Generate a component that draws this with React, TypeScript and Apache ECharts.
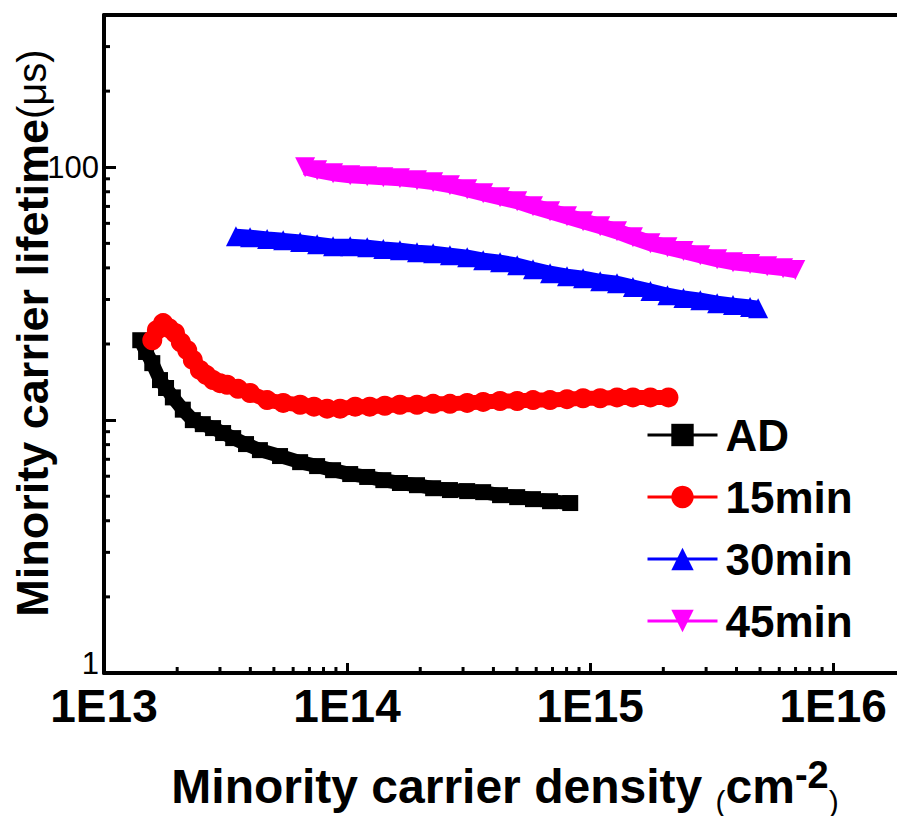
import React, { useEffect, useRef } from 'react';
import * as echarts from 'echarts';

const seriesNames = ['AD', '15min', '30min', '45min'];
const seriesColors = ['#000000', '#ff0000', '#0000ff', '#ff00ff'];

const adX = [1.41e13, 1.49e13, 1.58e13, 1.70e13, 1.80e13, 1.92e13, 2.11e13, 2.32e13, 2.55e13, 2.81e13, 3.09e13, 3.40e13, 3.84e13, 4.38e13, 5.30e13, 6.41e13, 7.53e13, 8.76e13, 1.03e14, 1.21e14, 1.41e14, 1.65e14, 1.94e14, 2.26e14, 2.65e14, 3.12e14, 3.63e14, 4.26e14, 5.01e14, 5.82e14, 6.84e14, 8.28e14];
const adY = [20.7, 18.6, 16.8, 14.4, 13.4, 12.3, 11.0, 10.0, 9.64, 9.30, 8.89, 8.49, 8.04, 7.61, 7.21, 6.82, 6.58, 6.34, 6.12, 5.96, 5.79, 5.64, 5.53, 5.38, 5.29, 5.24, 5.19, 5.05, 4.96, 4.87, 4.78, 4.70];

const m15X = [1.58e13, 1.65e13, 1.75e13, 1.85e13, 1.96e13, 2.07e13, 2.20e13, 2.32e13, 2.48e13, 2.63e13, 2.81e13, 3.00e13, 3.21e13, 3.56e13, 3.99e13, 4.69e13, 5.46e13, 6.41e13, 7.31e13, 8.28e13, 9.36e13, 1.08e14, 1.24e14, 1.43e14, 1.65e14, 1.94e14, 2.26e14, 2.65e14, 3.12e14, 3.63e14, 4.26e14, 5.01e14, 5.82e14, 6.84e14, 8.03e14, 9.35e14, 1.10e15, 1.29e15, 1.50e15, 1.77e15, 2.10e15];
const m15Y = [20.7, 22.7, 24.2, 23.1, 22.1, 20.3, 18.9, 17.3, 15.8, 15.1, 14.4, 14.0, 13.8, 13.3, 12.8, 12.0, 11.7, 11.5, 11.3, 11.1, 11.1, 11.3, 11.3, 11.4, 11.5, 11.5, 11.6, 11.6, 11.7, 11.8, 11.9, 11.9, 12.0, 12.0, 12.1, 12.2, 12.2, 12.3, 12.3, 12.3, 12.3];

const m30X = [3.49e13, 3.99e13, 4.69e13, 5.46e13, 6.41e13, 7.53e13, 8.76e13, 1.03e14, 1.21e14, 1.41e14, 1.65e14, 1.94e14, 2.26e14, 2.65e14, 3.12e14, 3.63e14, 4.26e14, 5.01e14, 5.82e14, 6.84e14, 8.03e14, 9.35e14, 1.10e15, 1.29e15, 1.50e15, 1.77e15, 2.08e15, 2.42e15, 2.84e15, 3.33e15, 3.87e15, 4.55e15, 4.91e15];
const m30Y = [53.4, 52.9, 52.0, 51.4, 50.6, 49.6, 48.7, 48.7, 48.3, 47.5, 47.0, 46.1, 45.7, 44.9, 44.1, 42.9, 42.1, 41.0, 39.5, 38.1, 37.1, 36.4, 35.4, 34.8, 33.6, 32.4, 31.2, 30.4, 29.8, 29.0, 28.5, 28.0, 27.7];

const m45X = [6.72e13, 7.53e13, 8.76e13, 1.03e14, 1.21e14, 1.41e14, 1.65e14, 1.94e14, 2.26e14, 2.65e14, 3.12e14, 3.63e14, 4.26e14, 5.01e14, 5.82e14, 6.84e14, 8.03e14, 9.35e14, 1.10e15, 1.29e15, 1.50e15, 1.77e15, 2.08e15, 2.42e15, 2.84e15, 3.33e15, 3.87e15, 4.55e15, 5.35e15, 6.22e15, 6.98e15];
const m45Y = [100, 97.3, 94.7, 93.0, 92.1, 91.3, 90.5, 88.9, 87.3, 84.9, 81.9, 78.9, 76.1, 73.4, 70.1, 67.0, 64.0, 61.2, 58.5, 55.8, 52.9, 50.1, 48.3, 46.6, 44.9, 43.3, 42.1, 41.4, 40.6, 39.9, 39.2];

const xMin = 1e13;
const xMax = 1.83e16;
const yMin = 1;
const yMax = 400;

const xMinorTicks = [2e13, 3e13, 4e13, 5e13, 6e13, 7e13, 8e13, 9e13, 2e14, 3e14, 4e14, 5e14, 6e14, 7e14, 8e14, 9e14, 2e15, 3e15, 4e15, 5e15, 6e15, 7e15, 8e15, 9e15];
const yMinorTicks = [2, 3, 4, 5, 6, 7, 8, 9, 20, 30, 40, 50, 60, 70, 80, 90, 200, 300];
const yShownLabels = [1, 100];

const FONT = "'Liberation Sans', Arial, Helvetica, sans-serif";

const zip = (xs: number[], ys: number[]) => xs.map((x, i) => [x, ys[i]]);

export default function App() {
  const ref = useRef<HTMLDivElement>(null);

  useEffect(() => {
    if (!ref.current) return;
    const chart = echarts.init(ref.current, undefined, { renderer: 'svg' });

    const lineSeries = [
      { name: seriesNames[0], data: zip(adX, adY), symbol: 'rect', symbolSize: 16, symbolRotate: 0, width: 14 },
      { name: seriesNames[1], data: zip(m15X, m15Y), symbol: 'circle', symbolSize: 20, symbolRotate: 0, width: 15 },
      { name: seriesNames[2], data: zip(m30X, m30Y), symbol: 'triangle', symbolSize: 20, symbolRotate: 0, width: 15 },
      { name: seriesNames[3], data: zip(m45X, m45Y), symbol: 'triangle', symbolSize: 20, symbolRotate: 180, width: 16 },
    ].map((s, i) => ({
      type: 'line',
      name: s.name,
      data: s.data,
      symbol: s.symbol,
      symbolSize: s.symbolSize,
      symbolRotate: s.symbolRotate,
      showAllSymbol: true,
      color: seriesColors[i],
      itemStyle: { color: seriesColors[i] },
      lineStyle: { color: seriesColors[i], width: s.width, join: 'round', cap: 'butt' },
      z: 3 + i,
    }));

    const tickStyle = { stroke: '#000', lineWidth: 3 };

    const option: any = {
      animation: false,
      backgroundColor: '#ffffff',
      grid: { left: 104, right: 0, top: 15, bottom: 143, containLabel: false },
      xAxis: [
        {
          type: 'log',
          logBase: 10,
          min: xMin,
          max: xMax,
          axisLine: { show: true, onZero: false, lineStyle: { color: '#000', width: 4 } },
          axisTick: { show: true, inside: true, length: 10, lineStyle: { color: '#000', width: 3 } },
          splitLine: { show: false },
          axisLabel: {
            show: true,
            margin: 10,
            showMaxLabel: false,
            fontFamily: FONT,
            fontWeight: 'bold',
            fontSize: 46,
            color: '#000',
            formatter: (v: number) => {
              const e = Math.log10(v);
              return Math.abs(e - Math.round(e)) < 1e-6 ? '1E' + Math.round(e) : '';
            },
          },
        },
        {
          type: 'log',
          logBase: 10,
          position: 'top',
          min: xMin,
          max: xMax,
          axisLine: { show: true, onZero: false, lineStyle: { color: '#000', width: 4 } },
          axisTick: { show: false },
          axisLabel: { show: false },
          splitLine: { show: false },
        },
      ],
      yAxis: {
        type: 'log',
        logBase: 10,
        min: yMin,
        max: yMax,
        axisLine: { show: true, onZero: false, lineStyle: { color: '#000', width: 4 } },
        axisTick: { show: true, inside: true, length: 12, lineStyle: { color: '#000', width: 3 } },
        splitLine: { show: false },
        axisLabel: {
          show: true,
          margin: 5,
          showMaxLabel: false,
          fontFamily: FONT,
          fontSize: 31,
          color: '#000',
          formatter: (v: number) => {
            const r = Math.round(v);
            if (!yShownLabels.includes(r) || Math.abs(v - r) > 1e-6) return '';
            return r === yMin ? '{low|' + r + '}' : String(r);
          },
          rich: {
            low: { fontFamily: FONT, fontSize: 31, color: '#000', padding: [0, 0, 20, 0] },
          },
        },
      },
      legend: {
        show: true,
        data: seriesNames,
        orient: 'vertical',
        left: 641,
        top: 408,
        itemWidth: 70,
        itemHeight: 28,
        itemGap: 18,
        lineStyle: { width: 3 },
        textStyle: { fontFamily: FONT, fontWeight: 'bold', fontSize: 44, color: '#000', padding: [0, 0, 0, 3] },
      },
      graphic: [
        {
          type: 'text',
          x: 32,
          y: 333,
          rotation: Math.PI / 2,
          style: {
            text: '{b|Minority carrier lifetime}{r|(μs)}',
            align: 'center',
            verticalAlign: 'middle',
            rich: {
              b: { fontFamily: FONT, fontWeight: 'bold', fontSize: 45, fill: '#000' },
              r: { fontFamily: FONT, fontWeight: 'normal', fontSize: 40, fill: '#000' },
            },
          },
        },
        {
          type: 'text',
          x: 505,
          y: 786,
          style: {
            text: '{b|Minority carrier density }{p|(}{b|cm}{s|-2}{p|)}',
            align: 'center',
            verticalAlign: 'middle',
            rich: {
              b: { fontFamily: FONT, fontWeight: 'bold', fontSize: 48, fill: '#000' },
              p: { fontFamily: FONT, fontWeight: 'normal', fontSize: 30, fill: '#000', verticalAlign: 'bottom' },
              s: { fontFamily: FONT, fontWeight: 'bold', fontSize: 38, fill: '#000', verticalAlign: 'top', padding: [0, 0, 22, 0] },
            },
          },
        },
      ],
      series: [
        ...lineSeries,
        {
          type: 'custom',
          name: 'xMinor',
          xAxisIndex: 0,
          yAxisIndex: 0,
          silent: true,
          data: xMinorTicks.map((v) => [v, yMin]),
          renderItem: (params: any, api: any) => {
            const p = api.coord([api.value(0), api.value(1)]);
            return { type: 'line', shape: { x1: p[0], y1: p[1], x2: p[0], y2: p[1] - 6 }, style: tickStyle };
          },
          z: 10,
        },
        {
          type: 'custom',
          name: 'yMinor',
          xAxisIndex: 0,
          yAxisIndex: 0,
          silent: true,
          data: yMinorTicks.map((v) => [xMin, v]),
          renderItem: (params: any, api: any) => {
            const p = api.coord([api.value(0), api.value(1)]);
            return { type: 'line', shape: { x1: p[0], y1: p[1], x2: p[0] + 6, y2: p[1] }, style: tickStyle };
          },
          z: 10,
        },
      ],
    };

    chart.setOption(option);
    return () => {
      chart.dispose();
    };
  }, []);

  return (
    <div
      ref={ref}
      style={{ position: 'absolute', left: 0, top: 0, width: 897, height: 816, background: '#fff' }}
    />
  );
}
